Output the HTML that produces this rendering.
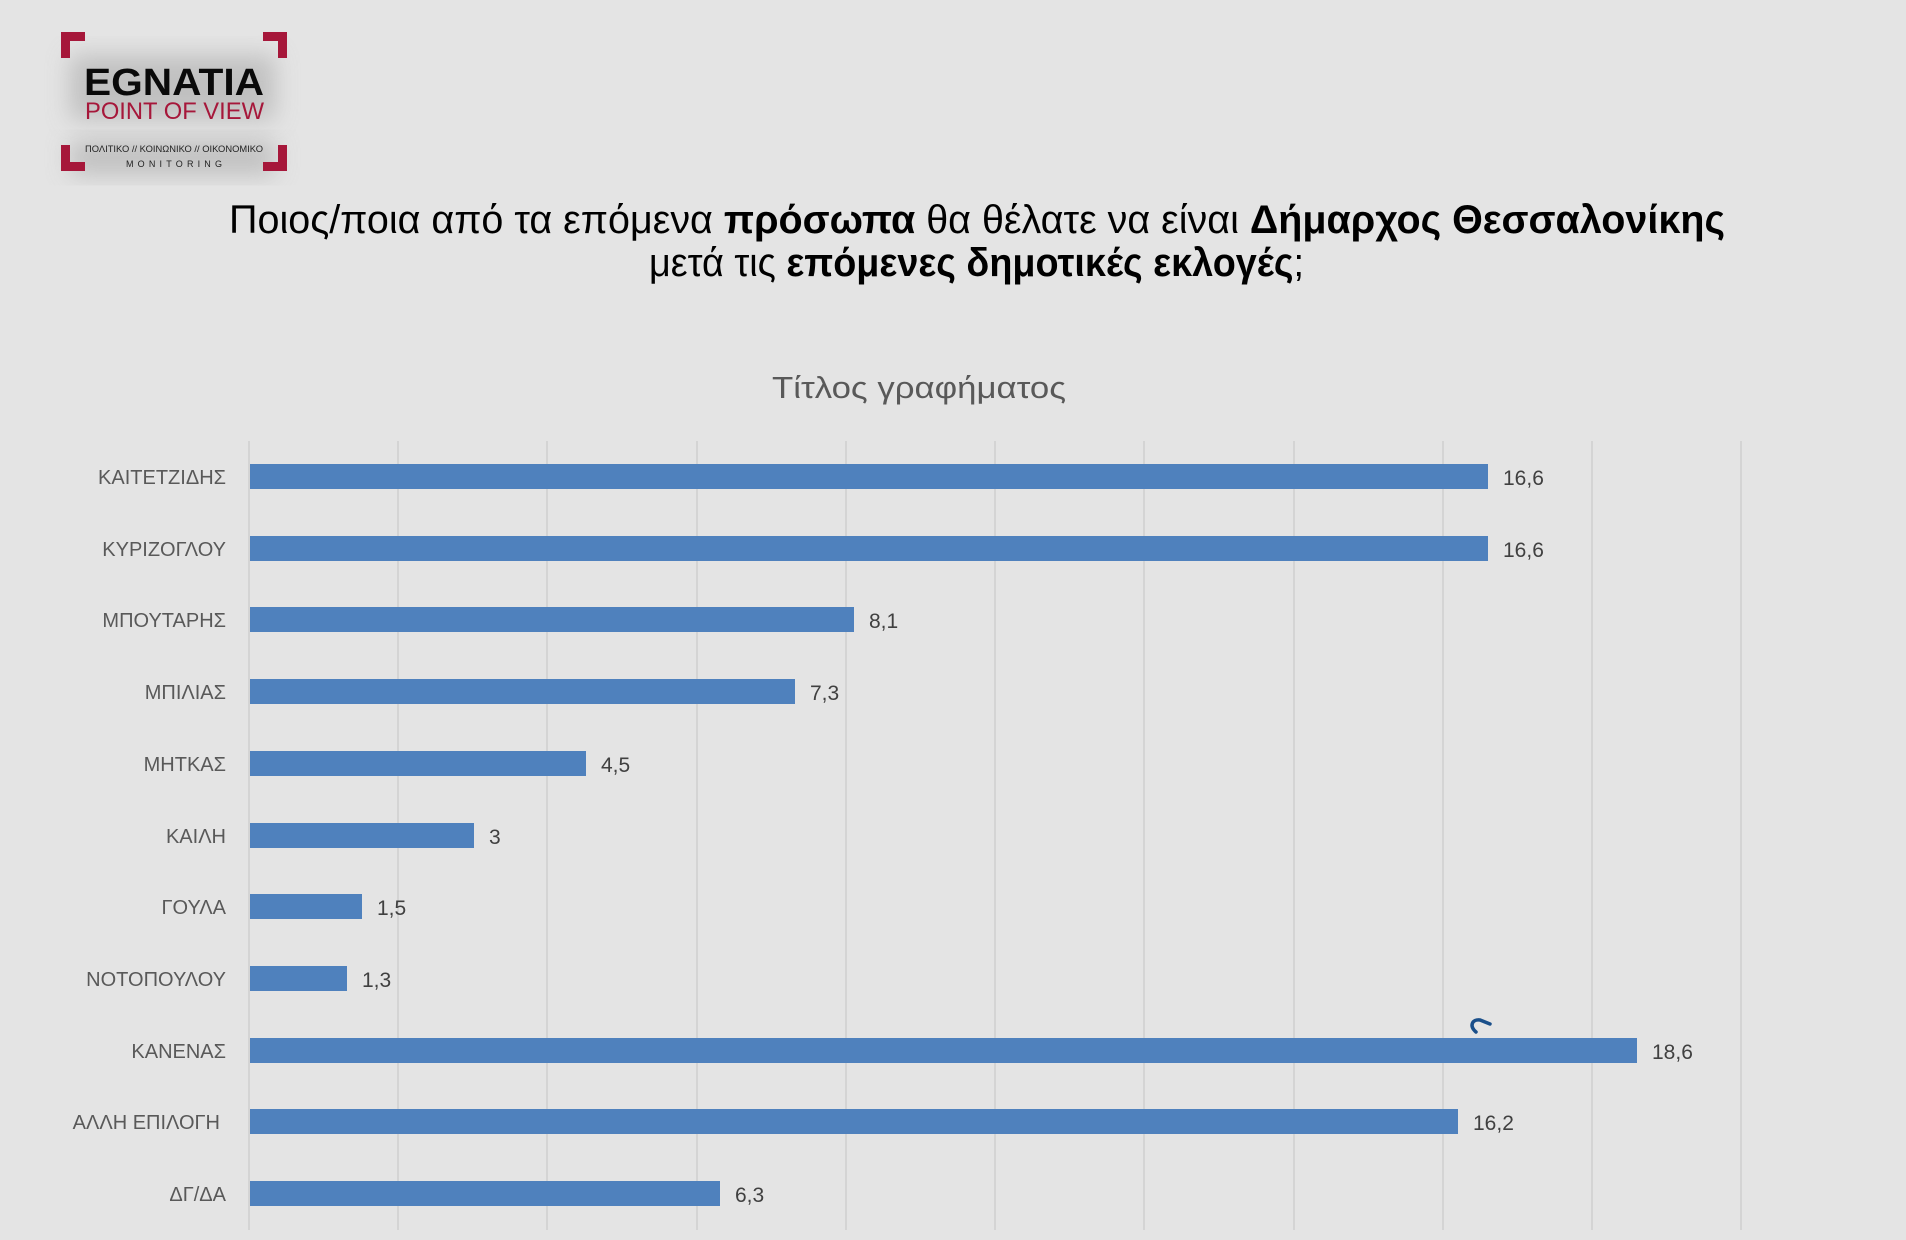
<!DOCTYPE html>
<html><head><meta charset="utf-8"><style>
html,body{margin:0;padding:0;background:#e4e4e4;}
svg{display:block;}
</style></head><body>
<svg width="1906" height="1240" viewBox="0 0 1906 1240" xmlns="http://www.w3.org/2000/svg">
<defs>
<filter id="bl" x="-30%" y="-30%" width="160%" height="160%"><feGaussianBlur stdDeviation="12"/></filter>
</defs>
<rect width="1906" height="1240" fill="#e4e4e4"/>
<!-- logo glow -->
<rect x="70" y="55" width="205" height="65" fill="#b8b8b8" filter="url(#bl)" opacity="0.8"/>
<rect x="70" y="140" width="205" height="35" fill="#b8b8b8" filter="url(#bl)" opacity="0.8"/>
<g fill="#a6173a">
<rect x="61" y="32" width="9" height="26"/><rect x="61" y="32" width="24" height="9"/>
<rect x="278" y="32" width="9" height="26"/><rect x="263" y="32" width="24" height="9"/>
<rect x="61" y="145" width="9" height="26"/><rect x="61" y="162" width="24" height="9"/>
<rect x="278" y="145" width="9" height="26"/><rect x="263" y="162" width="24" height="9"/>
</g>
<text x="84" y="95" font-family="Liberation Sans, sans-serif" font-weight="bold" font-size="38" textLength="180" lengthAdjust="spacingAndGlyphs" fill="#0a0a0a">EGNATIA</text>
<text x="85" y="119" font-family="Liberation Sans, sans-serif" font-size="24" textLength="179" lengthAdjust="spacingAndGlyphs" fill="#a6173a">POINT OF VIEW</text>
<text x="85" y="152" font-family="Liberation Sans, sans-serif" font-size="9" textLength="178" lengthAdjust="spacingAndGlyphs" fill="#222">ΠΟΛΙΤΙΚΟ // ΚΟΙΝΩΝΙΚΟ // ΟΙΚΟΝΟΜΙΚΟ</text>
<text x="126" y="167" font-family="Liberation Sans, sans-serif" font-size="9" textLength="96" lengthAdjust="spacing" fill="#222">MONITORING</text>
<!-- title -->
<text x="229" y="233" font-family="Liberation Sans, sans-serif" font-size="40" textLength="1496" lengthAdjust="spacingAndGlyphs" fill="#000">Ποιος/ποια από τα επόμενα <tspan font-weight="bold">πρόσωπα</tspan> θα θέλατε να είναι <tspan font-weight="bold">Δήμαρχος Θεσσαλονίκης</tspan></text>
<text x="649" y="276" font-family="Liberation Sans, sans-serif" font-size="40" textLength="655" lengthAdjust="spacingAndGlyphs" fill="#000">μετά τις <tspan font-weight="bold">επόμενες δημοτικές εκλογές</tspan>;</text>
<text x="919" y="398" text-anchor="middle" font-family="Liberation Sans, sans-serif" font-size="31" textLength="294" lengthAdjust="spacingAndGlyphs" fill="#595959">Τίτλος γραφήματος</text>
<!-- grid -->
<g stroke="#d4d4d4" stroke-width="2">
<line x1="249" y1="441" x2="249" y2="1230"/><line x1="398" y1="441" x2="398" y2="1230"/>
<line x1="547" y1="441" x2="547" y2="1230"/><line x1="697" y1="441" x2="697" y2="1230"/>
<line x1="846" y1="441" x2="846" y2="1230"/><line x1="995" y1="441" x2="995" y2="1230"/>
<line x1="1144" y1="441" x2="1144" y2="1230"/><line x1="1294" y1="441" x2="1294" y2="1230"/>
<line x1="1443" y1="441" x2="1443" y2="1230"/><line x1="1592" y1="441" x2="1592" y2="1230"/>
<line x1="1741" y1="441" x2="1741" y2="1230"/>
</g>
<g fill="#4f81bd">
<rect x="250" y="464" width="1238" height="25"/>
<rect x="250" y="536" width="1238" height="25"/>
<rect x="250" y="607" width="604" height="25"/>
<rect x="250" y="679" width="545" height="25"/>
<rect x="250" y="751" width="336" height="25"/>
<rect x="250" y="823" width="224" height="25"/>
<rect x="250" y="894" width="112" height="25"/>
<rect x="250" y="966" width="97" height="25"/>
<rect x="250" y="1038" width="1387" height="25"/>
<rect x="250" y="1109" width="1208" height="25"/>
<rect x="250" y="1181" width="470" height="25"/>
</g>
<g font-family="Liberation Sans, sans-serif" font-size="20" fill="#595959" text-anchor="end">
<text x="226" y="484">ΚΑΙΤΕΤΖΙΔΗΣ</text>
<text x="226" y="556">ΚΥΡΙΖΟΓΛΟΥ</text>
<text x="226" y="627">ΜΠΟΥΤΑΡΗΣ</text>
<text x="226" y="699">ΜΠΙΛΙΑΣ</text>
<text x="226" y="771">ΜΗΤΚΑΣ</text>
<text x="226" y="843">ΚΑΙΛΗ</text>
<text x="226" y="914">ΓΟΥΛΑ</text>
<text x="226" y="986">ΝΟΤΟΠΟΥΛΟΥ</text>
<text x="226" y="1058">ΚΑΝΕΝΑΣ</text>
<text x="220" y="1129">ΑΛΛΗ ΕΠΙΛΟΓΗ</text>
<text x="226" y="1201">ΔΓ/ΔΑ</text>
</g>
<g font-family="Liberation Sans, sans-serif" font-size="21" fill="#404040">
<text x="1503" y="485">16,6</text>
<text x="1503" y="557">16,6</text>
<text x="869" y="628">8,1</text>
<text x="810" y="700">7,3</text>
<text x="601" y="772">4,5</text>
<text x="489" y="844">3</text>
<text x="377" y="915">1,5</text>
<text x="362" y="987">1,3</text>
<text x="1652" y="1059">18,6</text>
<text x="1473" y="1130">16,2</text>
<text x="735" y="1202">6,3</text>
</g>
<path d="M1476 1032 C1469 1026 1472 1019 1480 1020 L1490 1024" fill="none" stroke="#1a4f8a" stroke-width="3.5" stroke-linecap="round"/>
</svg>
</body></html>
